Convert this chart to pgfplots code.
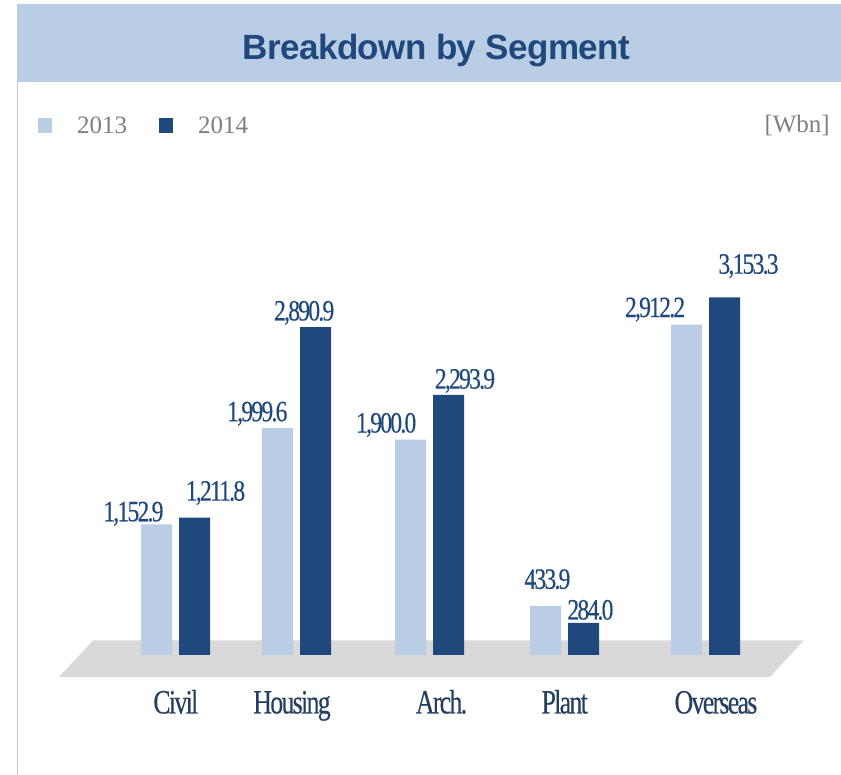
\documentclass[border=0pt]{standalone}
\usepackage{pgfplots}
\pgfplotsset{compat=1.18}
\usepackage{fontspec}
\setmainfont{Liberation Serif}
\newfontfamily\titlefont{Liberation Sans}[LetterSpace=-1.5]
\newfontfamily\valfont{Liberation Serif}[FakeStretch=0.80, LetterSpace=-6, FakeBold=0.3]
\newfontfamily\catfont{Liberation Serif}[FakeStretch=0.76, LetterSpace=-5, FakeBold=0.3]
\definecolor{lightbar}{HTML}{B9CDE5}
\definecolor{darkbar}{HTML}{1F497D}
\definecolor{floorgray}{HTML}{D9D9D9}
\definecolor{txtgray}{HTML}{7F7F7F}
\definecolor{catblue}{HTML}{243F60}
\tikzset{vlab/.style={anchor=base, inner sep=0pt, text=darkbar,
    font=\valfont\fontsize{29.5}{32}\selectfont}}

\begin{document}
\begin{tikzpicture}
\path[use as bounding box] (0pt,0pt) rectangle (841pt,775pt);
% title band
\fill[lightbar] (17pt,771pt) rectangle (841pt,693pt);
% left border line
\fill[lightbar] (16.5pt,0pt) rectangle (18pt,693pt);
% floor
\fill[floorgray] (93.3pt,134.7pt) -- (804pt,134.7pt) -- (770pt,98pt) -- (59pt,98pt) -- cycle;
% title
\node[anchor=base, inner sep=0pt, text=darkbar,
      font=\titlefont\bfseries\fontsize{35}{40}\selectfont] at (436.3pt,715.7pt) {Breakdown by Segment};
% unit
\node[anchor=base east, inner sep=0pt, text=txtgray,
      font=\fontsize{25}{30}\selectfont] at (830pt,642pt) {[Wbn]};

\begin{axis}[
  at={(0pt,0pt)}, anchor=south west,
  scale only axis, width=841pt, height=775pt,
  xmin=0, xmax=841, ymin=-1058.2, ymax=5776.0,
  axis line style={draw=none}, tick style={draw=none},
  ytick=\empty,
  xtick={175.8,292,441.5,564.7,716},
  xticklabels={Civil,Housing,Arch.,Plant,Overseas},
  xticklabel style={anchor=base, inner sep=0pt, yshift=65.8pt,
    font=\catfont\fontsize{34}{40}\selectfont, text=catblue},
  ybar, bar width=31pt,
  clip=false,
  legend image code/.code={\fill[#1] (0pt,-7.5pt) rectangle (14pt,7.5pt);},
  legend style={at={(rel axis cs:0.0452,0.838)}, anchor=west,
    draw=none, fill=none, inner sep=0pt, outer sep=0pt,
    nodes={inner sep=0pt}, text=txtgray,
    font=\fontsize{25}{30}\selectfont,
    legend columns=-1,
    /tikz/every odd column/.append style={column sep=25pt},
    /tikz/every even column/.append style={column sep=32pt}},
]
\addplot[fill=lightbar, draw=none, bar shift=-19pt] coordinates
  {(175.5,1152.9) (296.6,1999.6) (429.7,1900.0) (564.5,433.9) (705.5,2912.2)};
\addlegendentry{2013}
\addplot[fill=darkbar, draw=none, bar shift=19pt] coordinates
  {(175.5,1211.8) (296.6,2890.9) (429.7,2293.9) (564.5,284.0) (705.5,3153.3)};
\addlegendentry{2014}
% value labels (2013)
\node[vlab, yshift=3pt]   at (axis cs:133.4,1152.9) {1,152.9};
\node[vlab, yshift=7pt]   at (axis cs:257.3,1999.6) {1,999.6};
\node[vlab, yshift=7pt]   at (axis cs:386.2,1900.0) {1,900.0};
\node[vlab, yshift=17pt]  at (axis cs:547.4,433.9)  {433.9};
\node[vlab, yshift=7.7pt] at (axis cs:655.1,2912.2) {2,912.2};
% value labels (2014)
\node[vlab, yshift=17pt]  at (axis cs:215.5,1211.8) {1,211.8};
\node[vlab, yshift=6.7pt] at (axis cs:304.2,2890.9) {2,890.9};
\node[vlab, yshift=6.3pt] at (axis cs:465.0,2293.9) {2,293.9};
\node[vlab, yshift=3.3pt] at (axis cs:590.4,284.0)  {284.0};
\node[vlab, yshift=23.7pt] at (axis cs:748.5,3153.3) {3,153.3};
\end{axis}
\end{tikzpicture}
\end{document}
